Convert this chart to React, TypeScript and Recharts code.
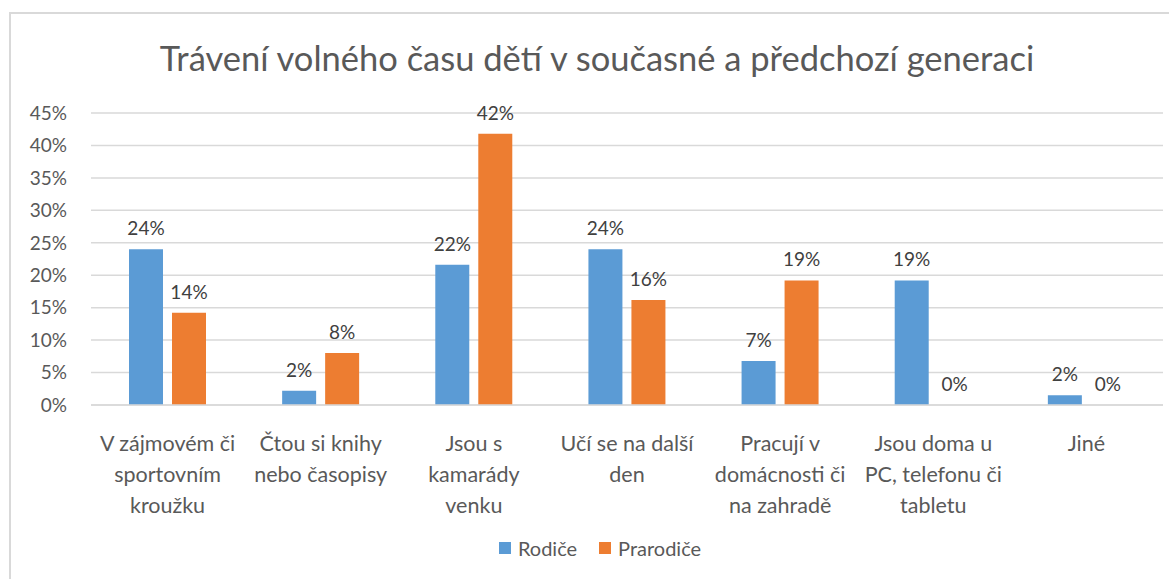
import { Bar, BarChart, CartesianGrid, LabelList, XAxis, YAxis } from 'recharts';

// Excel-like palette
const BLUE = '#5b9bd5';
const ORANGE = '#ed7d31';
const TEXT = '#595959';
const FONT = 'Lato, "Liberation Sans", sans-serif';
const BAR_SIZE = 34;
const BAR_GAP = 9;

const title = 'Trávení volného času dětí v současné a předchozí generaci';

const categories = [
  'V zájmovém či\nsportovním\nkroužku',
  'Čtou si knihy\nnebo časopisy',
  'Jsou s\nkamarády\nvenku',
  'Učí se na další\nden',
  'Pracují v\ndomácnosti či\nna zahradě',
  'Jsou doma u\nPC, telefonu či\ntabletu',
  'Jiné',
];
const rodice = [24.0, 2.2, 21.6, 24.0, 6.8, 19.2, 1.5];
const prarodice = [14.2, 8.0, 41.8, 16.2, 19.2, 0, 0];
const yTicks = [0, 5, 10, 15, 20, 25, 30, 35, 40, 45];

const series = [
  { key: 'rodice', name: 'Rodiče', color: BLUE },
  { key: 'prarodice', name: 'Prarodiče', color: ORANGE },
];

const data = categories.map((label, i) => ({
  label,
  rodice: rodice[i],
  prarodice: prarodice[i],
}));

const pct = (v: unknown) => `${Math.round(Number(v))}%`;

function CategoryTick(props: any) {
  const { x, y, payload } = props;
  const lines = String(payload.value).split('\n');
  return (
    <text x={x} y={y} textAnchor="middle" fill={TEXT} fontSize={21.5} fontFamily={FONT}>
      {lines.map((line, i) => (
        <tspan key={i} x={x} dy={i === 0 ? 38 : 31}>
          {line}
        </tspan>
      ))}
    </text>
  );
}

function labelText(cx: number, y: number, text: string, key?: string) {
  return (
    <text key={key} x={cx} y={y - 14} textAnchor="middle" fill="#404040" fontSize={19} fontFamily={FONT}>
      {text}
    </text>
  );
}

// Recharts drops zero-height bars (and their labels), so the first series'
// label also prints the "0%" of the neighbouring orange bar when it is zero.
function ValueLabel(props: any) {
  const { x, y, width, height, value, index } = props;
  if (value == null) return null;
  const cx = Number(x) + Number(width) / 2;
  const own = labelText(cx, Number(y), pct(value), 'own');
  if (props.withZeroNeighbour && prarodice[index] === 0) {
    const base = Number(y) + Number(height);
    return (
      <g>
        {own}
        {labelText(cx + BAR_SIZE + BAR_GAP, base, pct(prarodice[index]), 'zero')}
      </g>
    );
  }
  return own;
}

export default function App() {
  return (
    <div style={{ position: 'absolute', left: 0, top: 0, width: 1169, height: 579, overflow: 'hidden', background: '#fff' }}>
      <div
        style={{
          position: 'absolute', left: 9, top: 12, width: 1170, height: 580,
          borderLeft: '2px solid #d9d9d9', borderTop: '2px solid #d9d9d9',
        }}
      />
      <div
        style={{
          position: 'absolute', left: 0, top: 38, width: 1194, textAlign: 'center',
          fontFamily: FONT, fontSize: 34.5, color: TEXT, lineHeight: '40px',
        }}
      >
        {title}
      </div>
      <div style={{ position: 'absolute', left: 0, top: 0 }}>
        <BarChart
          width={1169}
          height={579}
          data={data}
          margin={{ top: 113, right: 6, left: 0, bottom: 0 }}
          barSize={BAR_SIZE}
          barGap={BAR_GAP}
        >
          <CartesianGrid vertical={false} stroke="#d9d9d9" strokeWidth={1.5} />
          <XAxis
            dataKey="label"
            tick={<CategoryTick />}
            axisLine={{ stroke: '#d9d9d9', strokeWidth: 1.5 }}
            tickLine={false}
            interval={0}
            height={174}
          />
          <YAxis
            domain={[0, 45]}
            ticks={yTicks}
            tickFormatter={(v) => `${v}%`}
            tick={{ fill: TEXT, fontSize: 19, fontFamily: FONT }}
            axisLine={false}
            tickLine={false}
            tickSize={0}
            tickMargin={24}
            width={91}
          />
          {series.map((s, si) => (
            <Bar key={s.key} dataKey={s.key} name={s.name} fill={s.color} isAnimationActive={false}>
              <LabelList dataKey={s.key} content={<ValueLabel withZeroNeighbour={si === 0} />} />
            </Bar>
          ))}
        </BarChart>
      </div>
      <div
        style={{
          position: 'absolute', left: 0, top: 536, width: 1200, display: 'flex', justifyContent: 'center',
          fontFamily: FONT, fontSize: 20, color: TEXT, lineHeight: '24px',
        }}
      >
        {series.map((s) => (
          <div key={s.key} style={{ display: 'flex', alignItems: 'center', margin: '0 11px' }}>
            <span style={{ width: 12, height: 12, background: s.color, display: 'inline-block', marginRight: 7 }} />
            <span>{s.name}</span>
          </div>
        ))}
      </div>
    </div>
  );
}
